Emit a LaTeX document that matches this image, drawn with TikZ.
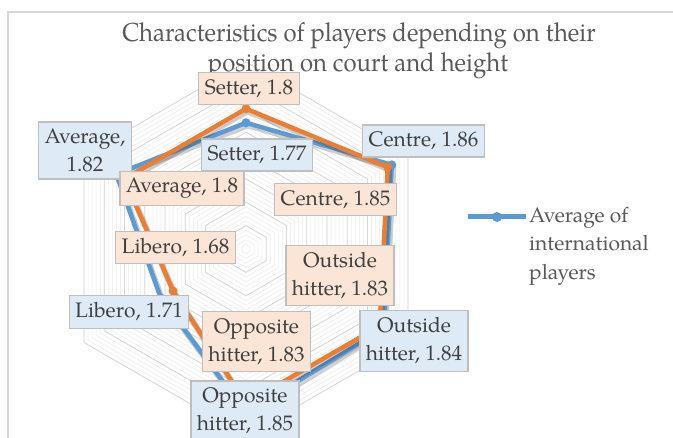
\documentclass[tikz,border=0pt]{standalone}
\usepackage{fontspec}
\setmainfont{texgyrepagella-regular.otf}
\newfontfamily\ttlf[FakeStretch=0.92]{texgyrepagella-regular.otf}
\usetikzlibrary{calc}
\definecolor{sblue}{HTML}{5B9BD5}
\definecolor{sorange}{HTML}{ED7D31}
\definecolor{lblue}{HTML}{DEEBF7}
\definecolor{lorange}{HTML}{FBE5D6}
\definecolor{bord}{HTML}{BFBFBF}
\definecolor{txt}{HTML}{404040}
\definecolor{ttl}{HTML}{595959}
\definecolor{gridmaj}{HTML}{D9D9D9}
\definecolor{gridmin}{HTML}{EDEDED}
\definecolor{framec}{HTML}{D9D9D9}
\begin{document}
\begin{tikzpicture}[x=1pt,y=-1pt,
  lab/.style={draw=bord, line width=1.3pt, font=\fontsize{21}{28}\selectfont, text=txt, align=center, inner xsep=6pt, inner ysep=7pt},
  olab/.style={lab, fill=lorange},
  blab/.style={lab, fill=lblue},
  ser/.style={line width=4.5pt, line join=round},
  shad/.style={line width=6pt, line join=round, black, opacity=0.18, transform canvas={shift={(1.5,2.5)}}},
  ttlfont/.style={font=\ttlf\fontsize{26}{30}\selectfont, text=ttl, inner sep=0pt}
]
\useasboundingbox (0,0) rectangle (673,438);
\fill[white] (0,0) rectangle (673,438);
\draw[framec, line width=1.2pt] (8,438) -- (8,12) -- (673,12);

\begin{scope}[shift={(246,249)}]
  \foreach \k in {1,...,40}{
    \pgfmathsetmacro\r{\k*187/40}
    \draw[gridmin, line width=0.6pt] (-90:\r) -- (-30:\r) -- (30:\r) -- (90:\r) -- (150:\r) -- (210:\r) -- cycle;
  }
  \foreach \k in {1,...,8}{
    \pgfmathsetmacro\r{\k*187/8}
    \draw[gridmaj, line width=0.8pt] (-90:\r) -- (-30:\r) -- (30:\r) -- (90:\r) -- (150:\r) -- (210:\r) -- cycle;
  }
  % blue series: average of international players
  \coordinate (b1) at (-90:{(1.77-1.5)*467.5});
  \coordinate (b2) at (-30:{(1.86-1.5)*467.5});
  \coordinate (b3) at (30:{(1.84-1.5)*467.5});
  \coordinate (b4) at (90:{(1.85-1.5)*467.5});
  \coordinate (b5) at (150:{(1.71-1.5)*467.5});
  \coordinate (b6) at (210:{(1.82-1.5)*467.5});
  % orange series
  \coordinate (o1) at (-90:{(1.80-1.5)*467.5});
  \coordinate (o2) at (-30:{(1.85-1.5)*467.5});
  \coordinate (o3) at (30:{(1.83-1.5)*467.5});
  \coordinate (o4) at (90:{(1.83-1.5)*467.5});
  \coordinate (o5) at (150:{(1.68-1.5)*467.5});
  \coordinate (o6) at (210:{(1.80-1.5)*467.5});
\end{scope}

\draw[shad] (b1) -- (b2) -- (b3) -- (b4) -- (b5) -- (b6) -- cycle;
\draw[ser, sblue] (b1) -- (b2) -- (b3) -- (b4) -- (b5) -- (b6) -- cycle;
\foreach \p in {b1,b2,b3,b4,b5,b6} \fill[sblue] (\p) circle (4.5);
\draw[shad] (o1) -- (o2) -- (o3) -- (o4) -- (o5) -- (o6) -- cycle;
\draw[ser, sorange] (o1) -- (o2) -- (o3) -- (o4) -- (o5) -- (o6) -- cycle;
\foreach \p in {o1,o2,o3,o4,o5,o6} \fill[sorange] (\p) circle (4.5);

% title
\node[ttlfont, anchor=base] (t1) at (359,42) {Characteristics of players depending on their};
\node[ttlfont, anchor=base] (t2) at (358,72) {position on court and height};

% data labels
\node[olab] (ls1) at (249,88.5) {Setter, 1.8};
\node[blab] (ls2) at (257,155) {Setter, 1.77};
\node[blab] (la2) at (85,150.5) {Average,\\1.82};
\node[olab] (la1) at (182,188.5) {Average, 1.8};
\node[blab] (lc2) at (423.5,141) {Centre, 1.86};
\node[olab] (lc1) at (335.5,199.5) {Centre, 1.85};
\node[olab] (ll1) at (175.5,247.5) {Libero, 1.68};
\node[olab] (lo1) at (340,275.5) {Outside\\hitter, 1.83};
\node[blab] (ll2) at (129,312) {Libero, 1.71};
\node[olab] (lp1) at (256.5,341.5) {Opposite\\hitter, 1.83};
\node[blab] (lo2) at (414,341) {Outside\\hitter, 1.84};
\node[blab] (lp2) at (245,411) {Opposite\\hitter, 1.85};

% legend
\coordinate (lg1) at (468,217);
\coordinate (lg2) at (526,217);
\draw[sblue, line width=5pt] (lg1) -- (lg2);
\fill[sblue] ($(lg1)!0.5!(lg2)$) circle (5);
\node[anchor=north west, align=left, font=\fontsize{21}{28.5}\selectfont, text=ttl, inner sep=0pt] (lgt) at (529,207) {Average of\\international\\players};
\end{tikzpicture}
\end{document}
